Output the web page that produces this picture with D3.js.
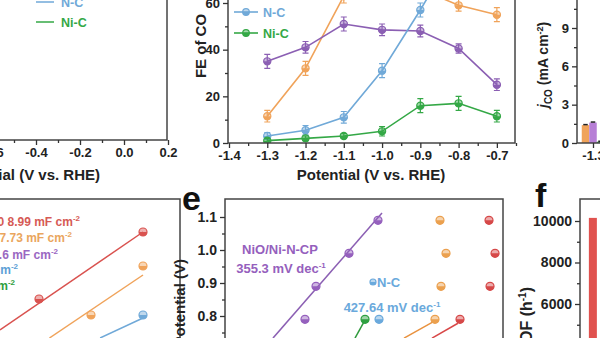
<!DOCTYPE html>
<html>
<head>
<meta charset="utf-8">
<script src="https://cdn.jsdelivr.net/npm/d3@7/dist/d3.min.js"></script>
<style>
  body { margin: 0; background: #fff; }
  svg { display: block; font-family: "Liberation Sans", Arial, sans-serif; }
  .tk text { font-weight: bold; fill: #222; }
  .tk line { stroke: #333; stroke-width: 1.3; }
</style>
</head>
<body>
<svg id="fig" width="600" height="338"></svg>
<script>
'use strict';

// panel c: FE of CO
var potentials = [-1.3, -1.2, -1.1, -1.0, -0.9, -0.8, -0.7];
var feNiOCP = [35, 41, 51, 48.5, 48, 40.5, 25];
var feNiNC  = [11.5, 32, 63, 68, 66, 59, 55];
var feNC    = [3, 5.5, 11, 31, 57, 85, 88];
var feNiC   = [1, 2, 3, 5, 16, 17, 11.5];
var errNiOCP = [3, 2.5, 3, 2.5, 2.5, 2, 2.5];
var errNiNC  = [2.5, 3, 3, 3, 3, 2.5, 3];
var errNC    = [1.5, 2, 2.5, 3, 3, 3, 3];
var errNiC   = [1, 1, 1, 2, 3, 3, 2.5];
var feTicks = [0, 20, 40, 60];

// panel b (left, only its axis is in view)
var lsvTicks = [-0.6, -0.4, -0.2, 0.0, 0.2];

// panel d: jCO bars (first group only in view)
var jcoPotentials = [-1.3];
var jcoNiNC  = [1.4];
var jcoNiOCP = [1.6];
var jcoNiC   = [0.1];
var jcoTicks = [0, 3, 6, 9];

// Cdl panel (bottom left): scan rate vs delta J
var cdlRed    = [[60, 0.61], [100, 1.28]];
var cdlOrange = [[80, 0.45], [100, 0.94]];
var cdlBlue   = [[100, 0.45]];
var fitRed    = [[45, 0.30], [100, 1.28]];
var fitOrange = [[64, 0.22], [100, 0.85]];
var fitBlue   = [[83.5, 0.22], [100, 0.42]];
var cdlLabels = ['Ni-N-C-900 8.99 mF cm', 'Ni-N-C-700 7.73 mF cm', 'NiO/Ni-N-CP 5.6 mF cm', 'N-C 1.2 mF cm', 'Ni-C 0.8 mF cm'];

// panel e: Tafel points (log j, potential)
var tafNiOCP  = [[-0.637, 0.79], [-0.518, 0.89], [-0.162, 0.99], [0.151, 1.09]];
var tafOrange = [[0.766, 0.79], [0.831, 0.89], [0.885, 0.99], [0.820, 1.09]];
var tafRed    = [[1.036, 0.79], [1.360, 0.89], [1.414, 0.99], [1.349, 1.09]];
var tafNC     = [[0.162, 0.79]];
var tafNiC    = [[0.011, 0.79]];
var fitNiOCP  = [[-0.982, 0.733], [0.194, 1.112]];
var fitTOrange = [[0.432, 0.733], [0.745, 0.782]];
var fitTRed   = [[0.734, 0.733], [1.014, 0.778]];
var fitTNiC   = [[-0.097, 0.733], [0.0, 0.782]];
var tafTicks = [0.8, 0.9, 1.0, 1.1];

// panel f: TOF
var tofCats = ['NiO/Ni-N-CP'];
var tofVals = [10150];
var tofTicks = [6000, 8000, 10000];

var C = {
  purple: '#8b5fb3', orange: '#f0a35a', blue: '#70a9d8', green: '#34a846', red: '#d9524f'
};

var svg = d3.select('#fig');
svg.append('rect').attr('width', 600).attr('height', 338).attr('fill', '#fff');

var defs = svg.append('defs');
function clip(id, x, y, w, h) {
  defs.append('clipPath').attr('id', id).append('rect')
    .attr('x', x).attr('y', y).attr('width', w).attr('height', h);
  return 'url(#' + id + ')';
}

function frame(x0, y0, x1, y1) {
  svg.append('rect')
    .attr('x', x0).attr('y', y0).attr('width', x1 - x0).attr('height', y1 - y0)
    .attr('fill', 'none').attr('stroke', '#444').attr('stroke-width', 1.5);
}

// draws an axis with major + minor ticks, no domain line (frames do that)
function axis(gen, pos, major, minor, fmt, fs) {
  var g = svg.append('g').attr('class', 'tk').attr('transform', pos);
  g.call(gen.tickValues(major).tickSize(5).tickPadding(3).tickFormat(fmt));
  g.selectAll('text').style('font-size', fs + 'px');
  g.select('.domain').remove();
  var m = svg.append('g').attr('class', 'tk').attr('transform', pos);
  m.call(gen.tickValues(minor).tickSize(3).tickFormat(''));
  m.select('.domain').remove();
  return g;
}

var f1 = function(d) { return d.toFixed(1); };
var f0 = function(d) { return String(d); };

function marker(g, x, y, col, r) {
  g.append('circle').attr('cx', x).attr('cy', y).attr('r', r)
    .attr('fill', col).attr('fill-opacity', 0.45).attr('stroke', col).attr('stroke-width', 1.2);
  g.append('path')
    .attr('d', 'M' + (x - r) + ',' + y + 'A' + r + ',' + r + ' 0 0,0 ' + (x + r) + ',' + y + 'Z')
    .attr('fill', col);
}

// ---------- panel c: FE of CO ----------
var xc = d3.scaleLinear().domain([-1.4, -0.65]).range([229, 516]);
var yc = d3.scaleLinear().domain([0, 60]).range([143, 3]);
var gc = svg.append('g').attr('clip-path', clip('cc', 229, -20, 286, 163));

var feSeries = [
  { v: feNiNC, e: errNiNC, c: C.orange },
  { v: feNiOCP, e: errNiOCP, c: C.purple },
  { v: feNC, e: errNC, c: C.blue },
  { v: feNiC, e: errNiC, c: C.green }
];
var line = d3.line().x(function(d, i) { return xc(potentials[i]); }).y(function(d) { return yc(d); });
feSeries.forEach(function(s) {
  gc.append('path').attr('d', line(s.v)).attr('fill', 'none')
    .attr('stroke', s.c).attr('stroke-width', 1.6);
  s.v.forEach(function(v, i) {
    var x = xc(potentials[i]);
    var y0 = yc(v - s.e[i]), y1 = yc(v + s.e[i]);
    gc.append('path')
      .attr('d', 'M' + x + ',' + y0 + 'V' + y1 + 'M' + (x - 3) + ',' + y0 + 'H' + (x + 3) + 'M' + (x - 3) + ',' + y1 + 'H' + (x + 3))
      .attr('stroke', s.c).attr('stroke-width', 1.2).attr('fill', 'none');
    marker(gc, x, yc(v), s.c, 3.6);
  });
});
frame(228, -30, 515, 143);
axis(d3.axisBottom(xc), 'translate(0,143)', potentials.concat([-1.4]),
  [-1.35, -1.25, -1.15, -1.05, -0.95, -0.85, -0.75, -0.65], f1, 13);
axis(d3.axisLeft(yc), 'translate(228,0)', feTicks, [10, 30, 50], f0, 13);

// legend
[['N-C', C.blue, 12], ['Ni-C', C.green, 33]].forEach(function(l) {
  svg.append('line').attr('x1', 234).attr('x2', 258).attr('y1', l[2]).attr('y2', l[2])
    .attr('stroke', l[1]).attr('stroke-width', 1.6);
  marker(svg, 246, l[2], l[1], 3.3);
  svg.append('text').attr('x', 263).attr('y', l[2] + 4.5).text(l[0])
    .attr('fill', l[1]).style('font-size', '12.5px').style('font-weight', 'bold');
});

svg.append('text').attr('x', 371).attr('y', 180).attr('text-anchor', 'middle')
  .style('font-size', '15px').style('font-weight', 'bold').attr('fill', '#222')
  .text('Potential (V vs. RHE)');
svg.append('text').attr('transform', 'translate(206,46) rotate(-90)').attr('text-anchor', 'middle')
  .style('font-size', '15px').style('font-weight', 'bold').attr('fill', '#222')
  .text('FE of CO');

// ---------- panel b (left) ----------
var xb = d3.scaleLinear().domain([-0.6, 0.2]).range([-8, 168]);
frame(-10, -30, 167, 140);
axis(d3.axisBottom(xb), 'translate(0,140)', lsvTicks, [-0.5, -0.3, -0.1, 0.1], f1, 13);
[['N-C', C.blue, 2], ['Ni-C', C.green, 22]].forEach(function(l) {
  svg.append('line').attr('x1', 36).attr('x2', 54).attr('y1', l[2]).attr('y2', l[2])
    .attr('stroke', l[1]).attr('stroke-width', 1.5);
  svg.append('text').attr('x', 61).attr('y', l[2] + 4.5).text(l[0])
    .attr('fill', l[1]).style('font-size', '12.5px').style('font-weight', 'bold');
});
svg.append('text').attr('x', 100).attr('y', 180).attr('text-anchor', 'end')
  .style('font-size', '15px').style('font-weight', 'bold').attr('fill', '#222')
  .text('Potential (V vs. RHE)');

// ---------- panel d: jCO ----------
var yd = d3.scaleLinear().domain([0, 9]).range([143, 28]);
var xd = d3.scaleLinear().domain([-1.3, -1.2]).range([593, 639]);
var bw = 7.5;
[[jcoNiNC, C.orange], [jcoNiOCP, '#b77fd6'], [jcoNiC, C.green]].forEach(function(s, k) {
  s[0].forEach(function(v, i) {
    var x = xd(jcoPotentials[i]) - 1.5 * bw + k * bw;
    svg.append('rect').attr('x', x).attr('y', yd(v)).attr('width', bw).attr('height', yd(0) - yd(v))
      .attr('fill', s[1]);
    svg.append('path').attr('d', 'M' + (x + 1.5) + ',' + (yd(v) - 0.5) + 'H' + (x + bw - 1.5))
      .attr('stroke', '#222').attr('stroke-width', 1.5);
  });
});
frame(577, -30, 700, 143);
axis(d3.axisLeft(yd), 'translate(577,0)', jcoTicks, [1.5, 4.5, 7.5, 10.5], f0, 13);
axis(d3.axisBottom(xd), 'translate(0,143)', jcoPotentials, [], f1, 13);
var jt = svg.append('text').attr('transform', 'translate(548,108) rotate(-90)')
  .style('font-size', '14px').style('font-weight', 'bold').attr('fill', '#222');
jt.append('tspan').style('font-style', 'italic').text('j');
jt.append('tspan').attr('dy', 4).style('font-size', '10px').text('CO');
jt.append('tspan').attr('dy', -4).text(' (mA cm');
jt.append('tspan').attr('dy', -5).style('font-size', '9px').text('-2');
jt.append('tspan').attr('dy', 5).text(')');

// ---------- Cdl panel (bottom left) ----------
var xl = d3.scaleLinear().domain([60, 100]).range([39, 143]);
var yl = d3.scaleLinear().domain([0, 1]).range([360, 260]);
var gl = svg.append('g').attr('clip-path', clip('cl', -10, 199, 190, 150));
var pl = d3.line().x(function(d) { return xl(d[0]); }).y(function(d) { return yl(d[1]); });
[[fitRed, cdlRed, C.red], [fitOrange, cdlOrange, C.orange], [fitBlue, cdlBlue, C.blue]].forEach(function(s) {
  gl.append('path').attr('d', pl(s[0])).attr('stroke', s[2]).attr('stroke-width', 1.5).attr('fill', 'none');
  s[1].forEach(function(p) { marker(gl, xl(p[0]), yl(p[1]), s[2], 4); });
});
var cdlCols = ['#d65a55', '#eaa65e', '#9a68c2', '#5c9fd6', '#2f9e3e'];
var cdlEnds = [80, 72, 58, 18, 15];
var cdlBase = [226, 242, 259, 274, 290];
cdlLabels.forEach(function(t, i) {
  var tx = svg.append('text').attr('x', cdlEnds[i]).attr('y', cdlBase[i]).attr('text-anchor', 'end')
    .attr('fill', cdlCols[i]).style('font-size', '12px').style('font-weight', 'bold');
  tx.append('tspan').text(t);
  tx.append('tspan').attr('dy', -5).style('font-size', '8px').text('-2');
});
frame(-10, 199, 180, 400);

// ---------- panel e: Tafel ----------
var xe = d3.scaleLinear().domain([-1.5, 1.5]).range([225, 503]);
var ye = d3.scaleLinear().domain([0.8, 1.1]).range([316, 217]);
var ge = svg.append('g').attr('clip-path', clip('ce', 225, 199, 278, 150));
var pe = d3.line().x(function(d) { return xe(d[0]); }).y(function(d) { return ye(d[1]); });
[[fitNiOCP, C.purple], [fitTOrange, '#e9923f'], [fitTRed, '#d84848'], [fitTNiC, '#2e9a3c']].forEach(function(s) {
  ge.append('path').attr('d', pe(s[0])).attr('stroke', s[1]).attr('stroke-width', 1.5).attr('fill', 'none');
});
[[tafNiOCP, '#9560bd'], [tafOrange, '#eba04e'], [tafRed, '#d64848'], [tafNC, '#6aa9dc'], [tafNiC, '#2ea040']].forEach(function(s) {
  s[0].forEach(function(p) { marker(ge, xe(p[0]), ye(p[1]), s[1], 4); });
});
frame(225, 199, 503, 400);
axis(d3.axisLeft(ye), 'translate(225,0)', tafTicks, [0.75, 0.85, 0.95, 1.05], f1, 14);

function slopeLabel(x, y, txt, col) {
  var t = svg.append('text').attr('x', x).attr('y', y).attr('text-anchor', 'middle')
    .attr('fill', col).style('font-size', '13px').style('font-weight', 'bold');
  t.append('tspan').text(txt);
  t.append('tspan').attr('dy', -5).style('font-size', '8px').text('-1');
  return t;
}
svg.append('text').attr('x', 280).attr('y', 254).attr('text-anchor', 'middle').attr('fill', '#9560bd')
  .style('font-size', '13px').style('font-weight', 'bold').text('NiO/Ni-N-CP');
slopeLabel(281, 273, '355.3 mV dec', '#9560bd');
marker(svg, 373, 282, '#6aa9dc', 3);
svg.append('text').attr('x', 377).attr('y', 287).attr('fill', '#6aa9dc')
  .style('font-size', '13px').style('font-weight', 'bold').text('N-C');
slopeLabel(392, 312, '427.64 mV dec', '#6aa9dc');

svg.append('text').attr('x', 182).attr('y', 210).style('font-size', '34px').style('font-weight', 'bold')
  .attr('fill', '#111').text('e');
svg.append('text').attr('transform', 'translate(185,259) rotate(-90)').attr('text-anchor', 'end')
  .style('font-size', '15px').style('font-weight', 'bold').attr('fill', '#222').text('Potential (V)');

// ---------- panel f: TOF ----------
var yf = d3.scaleLinear().domain([6000, 10000]).range([304, 221]);
var xf = d3.scaleBand().domain(tofCats).range([582, 604]).padding(0.15);
tofVals.forEach(function(v, i) {
  svg.append('rect').attr('x', xf(tofCats[i]) + 4).attr('y', yf(v)).attr('width', 8)
    .attr('height', 400 - yf(v)).attr('fill', '#e0524f');
});
frame(580, 199, 700, 400);
axis(d3.axisLeft(yf), 'translate(580,0)', tofTicks, [5000, 7000, 9000], f0, 14);
svg.append('text').attr('x', 535).attr('y', 207).style('font-size', '34px').style('font-weight', 'bold')
  .attr('fill', '#111').text('f');
var tt = svg.append('text').attr('transform', 'translate(532,287) rotate(-90)').attr('text-anchor', 'end')
  .style('font-size', '16px').style('font-weight', 'bold').attr('fill', '#222');
tt.append('tspan').text('TOF (h');
tt.append('tspan').attr('dy', -6).style('font-size', '10px').text('-1');
tt.append('tspan').attr('dy', 6).text(')');
</script>
</body>
</html>
